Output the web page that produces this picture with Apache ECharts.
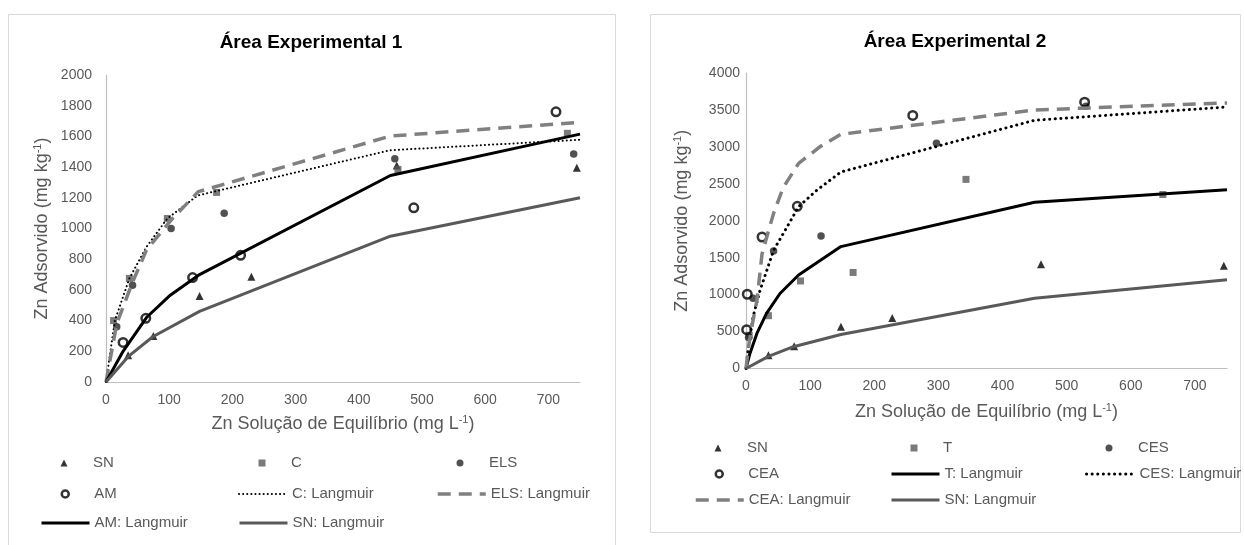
<!DOCTYPE html>
<html>
<head>
<meta charset="utf-8">
<title>Zn Adsorvido</title>
<script src="https://cdn.jsdelivr.net/npm/echarts@6/dist/echarts.min.js"></script>
<style>
  html, body { margin: 0; padding: 0; background: #fff; }
  #chart { width: 1244px; height: 545px; }
</style>
</head>
<body>
<div id="chart"></div>
<script>
// =====================================================================================================================
// Área Experimental 1 - pontos [Zn solução, Zn adsorvido]
let a1SN = [[35, 175], [75, 300], [148, 560], [230, 685], [460, 1410], [745, 1395]];
let a1C = [[12, 400], [37, 675], [97, 1065], [175, 1235], [462, 1385], [730, 1620]];
let a1ELS = [[17, 360], [42, 630], [103, 1000], [187, 1100], [457, 1455], [740, 1485]];
let a1AM = [[27, 258], [63, 415], [137, 680], [213, 825], [487, 1135], [712, 1760]];
// curvas de Langmuir
let a1CFit = [[0, 0], [14, 400], [37, 675], [64, 880], [97, 1065], [145, 1215], [450, 1510], [750, 1578]];
let a1ELSFit = [[0, 0], [17, 380], [42, 650], [64, 860], [103, 1055], [146, 1240], [450, 1602], [750, 1692]];
let a1AMFit = [[0, 0], [27, 200], [64, 420], [100, 560], [148, 700], [450, 1345], [750, 1615]];
let a1SNFit = [[0, 0], [35, 165], [74, 295], [148, 460], [450, 950], [750, 1200]];

// =====================================================================================================================
// Área Experimental 2
let a2SN = [[35, 180], [75, 300], [148, 565], [228, 685], [460, 1410], [745, 1390]];
let a2T = [[5, 450], [35, 715], [85, 1185], [167, 1300], [343, 2560], [650, 2355]];
let a2CES = [[4, 420], [11, 950], [43, 1590], [117, 1795], [297, 3050], [530, 3550]];
let a2CEA = [[1, 525], [2, 1005], [25, 1780], [80, 2195], [260, 3425], [528, 3605]];
let a2TFit = [[0, 0], [6, 200], [17, 475], [32, 745], [53, 1015], [82, 1265], [148, 1650], [450, 2250], [750, 2420]];
let a2CESFit = [[0, 0], [4, 300], [11, 700], [22, 1060], [43, 1600], [61, 1870], [82, 2190], [110, 2410], [148, 2660], [450, 3360], [750, 3540]];
let a2CEAFit = [[0, 0], [4, 300], [9, 560], [17, 920], [25, 1550], [33, 1800], [43, 2100], [58, 2450], [82, 2775], [115, 3000], [148, 3170], [450, 3500], [750, 3595]];
let a2SNFit = [[0, 0], [35, 165], [74, 295], [148, 460], [450, 950], [750, 1200]];

let xName = 'Zn Solução de Equilíbrio (mg L{sup|-1})';
let yName = 'Zn Adsorvido (mg kg{sup|-1})';

let font = 'Liberation Sans, Arial, sans-serif';
let grey = '#595959';

// =====================================================================================================================
function nameStyle() {
  return {
    fontSize: 18,
    color: grey,
    fontFamily: font,
    rich: {
      sup: {fontSize: 11, color: grey, fontFamily: font, verticalAlign: 'top', lineHeight: 20}
    }
  };
}

function plain(value) {
  return String(value);
}

function xAxis(grid) {
  return {
    type: 'value',
    gridIndex: grid,
    min: 0,
    max: 750,
    interval: 100,
    name: xName,
    nameLocation: 'middle',
    nameGap: grid === 0 ? 32 : 34,
    nameTextStyle: nameStyle(),
    axisLine: {show: true, lineStyle: {color: '#bfbfbf', width: 1.2}},
    axisTick: {show: false},
    splitLine: {show: false},
    axisLabel: {color: grey, fontSize: 14, margin: 11, showMaxLabel: false, formatter: plain}
  };
}

function yAxis(grid, max, interval, margin) {
  return {
    type: 'value',
    gridIndex: grid,
    min: 0,
    max: max,
    interval: interval,
    name: yName,
    nameLocation: 'middle',
    nameGap: 54,
    nameTextStyle: nameStyle(),
    axisLine: {show: true, lineStyle: {color: '#bfbfbf', width: 1.2}},
    axisTick: {show: false},
    splitLine: {show: false},
    axisLabel: {color: grey, fontSize: 14, margin: margin, formatter: plain}
  };
}

function pontos(name, grid, data, symbol, size, color) {
  let hollow = symbol === 'hollow';
  return {
    name: name,
    type: 'scatter',
    xAxisIndex: grid,
    yAxisIndex: grid,
    data: data,
    symbol: hollow ? 'circle' : symbol,
    symbolSize: size,
    itemStyle: hollow ?
      {color: 'rgba(0,0,0,0)', borderColor: color, borderWidth: 2.5} :
      {color: color},
    silent: true
  };
}

function curva(name, grid, data, color, width, type, cap) {
  return {
    name: name,
    type: 'line',
    xAxisIndex: grid,
    yAxisIndex: grid,
    data: data,
    symbol: 'none',
    smooth: false,
    lineStyle: {color: color, width: width, type: type, cap: cap || 'butt'},
    itemStyle: {color: color},
    silent: true
  };
}

let legendText = {color: grey, fontSize: 15, fontFamily: font, lineHeight: 18};

// uma legenda por item, para reproduzir as 3 colunas
// marcador: icone pequeno centrado na coluna, texto empurrado com padding
function legendaPonto(name, col, row) {
  return {
    left: col + 20.5,
    top: row - 9,
    padding: 0,
    selectedMode: false,
    data: [name],
    itemWidth: 7,
    itemHeight: 7,
    textStyle: Object.assign({padding: [0, 0, 0, 20.5]}, legendText),
    itemStyle: {borderWidth: 'inherit'}
  };
}

// linha: sem o simbolo que o ECharts poe no meio
function legendaLinha(name, col, row) {
  return {
    left: col,
    top: row - 9,
    padding: 0,
    selectedMode: false,
    data: [name],
    itemWidth: 48,
    itemHeight: 10,
    textStyle: legendText,
    lineStyle: {width: 'inherit'},
    itemStyle: {color: 'rgba(0,0,0,0)', borderColor: 'rgba(0,0,0,0)', borderWidth: 0}
  };
}

let dotted1 = [0.1, 4];
let dotted2 = [0.1, 5.5];
let dashed = [13, 8];

// =====================================================================================================================
let dom = document.getElementById('chart');
let chart = echarts.init(dom, null, {renderer: 'canvas'});

let option = {
  animation: false,
  backgroundColor: '#fff',
  textStyle: {fontFamily: font},
  graphic: [
    {type: 'rect', shape: {x: 8.5, y: 14.5, width: 607, height: 540}, style: {fill: 'none', stroke: '#d9d9d9', lineWidth: 1}},
    {type: 'rect', shape: {x: 650.5, y: 14.5, width: 590, height: 518}, style: {fill: 'none', stroke: '#d9d9d9', lineWidth: 1}},
    {type: 'text', x: 311, y: 43, style: {text: 'Área Experimental 1', fill: '#000', font: 'bold 19px ' + font, align: 'center', verticalAlign: 'middle'}},
    {type: 'text', x: 955, y: 42, style: {text: 'Área Experimental 2', fill: '#000', font: 'bold 19px ' + font, align: 'center', verticalAlign: 'middle'}}
  ],
  grid: [
    {left: 106, top: 75, width: 474, height: 307},
    {left: 746, top: 73, width: 481, height: 295.5}
  ],
  xAxis: [xAxis(0), xAxis(1)],
  yAxis: [yAxis(0, 2000, 200, 14), yAxis(1, 4000, 500, 6)],
  legend: [
    legendaPonto('SN', 40, 463),
    legendaPonto('C', 238, 463),
    legendaPonto('ELS', 436, 463),
    legendaPonto('AM', 40, 494),
    legendaLinha('C: Langmuir', 238, 494),
    legendaLinha('ELS: Langmuir', 436, 494),
    legendaLinha('AM: Langmuir', 40, 523),
    legendaLinha('SN: Langmuir', 238, 523),

    legendaPonto('SN', 694, 448),
    legendaPonto('T', 890, 448),
    legendaPonto('CES', 1085, 448),
    legendaPonto('CEA', 694, 474),
    legendaLinha('T: Langmuir', 890, 474),
    legendaLinha('CES: Langmuir', 1085, 474),
    legendaLinha('CEA: Langmuir', 694, 500),
    legendaLinha('SN: Langmuir', 890, 500)
  ],
  series: [
    pontos('SN', 0, a1SN, 'triangle', 8, '#000'),
    pontos('C', 0, a1C, 'rect', 7, grey),
    pontos('ELS', 0, a1ELS, 'circle', 7.5, '#262626'),
    pontos('AM', 0, a1AM, 'hollow', 8.5, '#000'),
    curva('C: Langmuir', 0, a1CFit, '#000', 2, dotted1, 'round'),
    curva('ELS: Langmuir', 0, a1ELSFit, '#808080', 3.5, dashed),
    curva('AM: Langmuir', 0, a1AMFit, '#000', 3),
    curva('SN: Langmuir', 0, a1SNFit, grey, 3),

    pontos('SN', 1, a2SN, 'triangle', 8, '#000'),
    pontos('T', 1, a2T, 'rect', 7, grey),
    pontos('CES', 1, a2CES, 'circle', 7.5, '#262626'),
    pontos('CEA', 1, a2CEA, 'hollow', 8.5, '#000'),
    curva('T: Langmuir', 1, a2TFit, '#000', 3),
    curva('CES: Langmuir', 1, a2CESFit, '#000', 3, dotted2, 'round'),
    curva('CEA: Langmuir', 1, a2CEAFit, '#808080', 3.5, dashed),
    curva('SN: Langmuir', 1, a2SNFit, grey, 3)
  ]
};

option && chart.setOption(option);
</script>
</body>
</html>
